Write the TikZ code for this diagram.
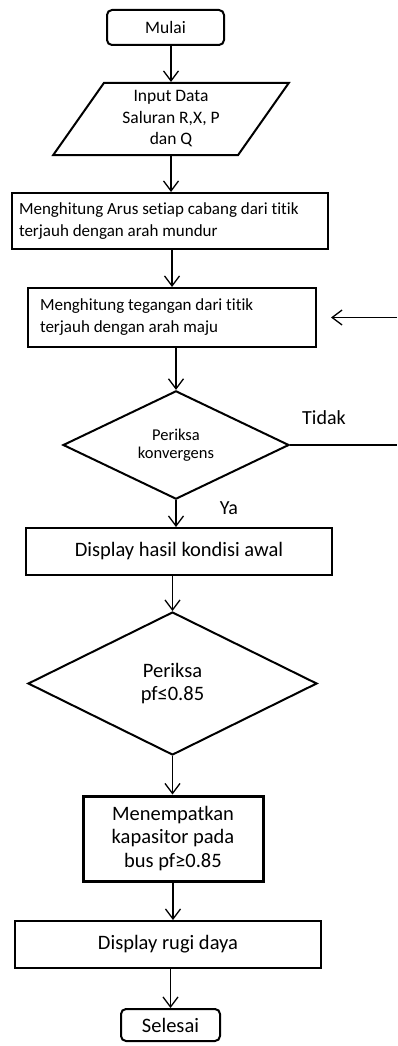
\documentclass[tikz,border=0pt]{standalone}
\usepackage{fontspec}
\setmainfont{Carlito}[Ligatures=NoCommon]
\usetikzlibrary{shapes.geometric,arrows.meta}

\tikzset{
  terminal/.style={draw, line width=2pt, rounded corners=5pt, inner sep=0pt},
  proses/.style={draw, line width=2pt, inner sep=0pt},
  keputusan/.style={draw, diamond, line width=2pt, inner sep=0pt, align=center},
  masukan/.style={draw, trapezium, trapezium left angle=57, trapezium right angle=123,
    trapezium stretches=true, line width=2pt, inner sep=0pt, align=center},
  panah/.style={line width=1.3pt, -{Straight Barb[length=10pt,width=15pt,line width=1.3pt]}},
  garis/.style={line width=1.3pt},
  teks/.style={inner sep=0pt}
}

\begin{document}
\begin{tikzpicture}[x=1pt,y=1pt,yscale=-1]
\useasboundingbox (0,0) rectangle (397,1046);
\coordinate (tepi) at (397,0);

% Terminal: mulai
\node [terminal, minimum width=117pt, minimum height=35pt, font=\fontsize{17.5}{20}\selectfont]
  (mulai) at (165.5,27.5) {Mulai};
% Input data
\node [masukan, minimum width=236pt, minimum height=72pt, font=\fontsize{17.5}{21.5}\selectfont]
  (input) at (171,119) {Input Data\\Saluran R,X, P\\dan Q};
% Proses: arus
\node [proses, minimum width=316pt, minimum height=56pt, text width=302pt, align=flush left,
  font=\fontsize{17}{22}\selectfont]
  (arus) at (170,221) {Menghitung Arus setiap cabang dari titik\\terjauh dengan arah mundur};
% Proses: tegangan
\node [proses, minimum width=288pt, minimum height=59pt, text width=264pt, align=flush left,
  font=\fontsize{17}{22}\selectfont]
  (tegangan) at (172,317.5) {Menghitung tegangan dari titik\\terjauh dengan arah maju};
% Keputusan: konvergensi
\node [keputusan, minimum width=226pt, minimum height=90pt, font=\fontsize{16.5}{18}\selectfont]
  (konv) at (176,445) {Periksa\\konvergens};
% Proses: kondisi awal
\node [proses, minimum width=306pt, minimum height=47pt, font=\fontsize{20.5}{24}\selectfont]
  (awal) at (179,551.5) {Display hasil kondisi awal};
% Keputusan: pf
\node [keputusan, minimum width=289pt, minimum height=143pt, font=\fontsize{20.5}{23}\selectfont]
  (cekpf) at (172.5,683.5) {Periksa\\pf≤0.85};
% Proses: kapasitor
\node [proses, line width=3pt, minimum width=180pt, minimum height=85pt, align=center,
  font=\fontsize{20.5}{23.5}\selectfont]
  (kapasitor) at (173,838.5) {Menempatkan\\kapasitor pada\\bus pf≥0.85};
% Proses: rugi daya
\node [proses, minimum width=306pt, minimum height=47pt, font=\fontsize{20.5}{24}\selectfont]
  (rugi) at (168,944.5) {Display rugi daya};
% Terminal: selesai
\node [terminal, minimum width=99pt, minimum height=32pt, font=\fontsize{20.5}{24}\selectfont]
  (selesai) at (170.5,1025) {Selesai};

% Label cabang
\node [teks, font=\fontsize{20}{24}\selectfont] (tidak) at (324,418) {Tidak};
\node [teks, font=\fontsize{20}{24}\selectfont] (ya) at (229,508) {Ya};

% Panah alur
\draw [panah] (input.north |- mulai.south) -- (input.north);
\draw [panah] (input.south) -- (input.south |- arus.north);
\draw [panah] (tegangan.north |- arus.south) -- (tegangan.north);
\draw [panah] (konv.north |- tegangan.south) -- (konv.north);
\draw [panah] (konv.south) -- (konv.south |- awal.north);
\draw [panah] (cekpf.north |- awal.south) -- (cekpf.north);
\draw [panah] (cekpf.south) -- (cekpf.south |- kapasitor.north);
\draw [panah] (kapasitor.south) -- (kapasitor.south |- rugi.north);
\draw [panah] (selesai.north |- rugi.south) -- (selesai.north);

% Umpan balik
\draw [garis] (konv.east) -- (konv.east -| tepi);
\draw [panah] (tegangan.east -| tepi) -- ([xshift=14pt]tegangan.east);

\end{tikzpicture}
\end{document}
